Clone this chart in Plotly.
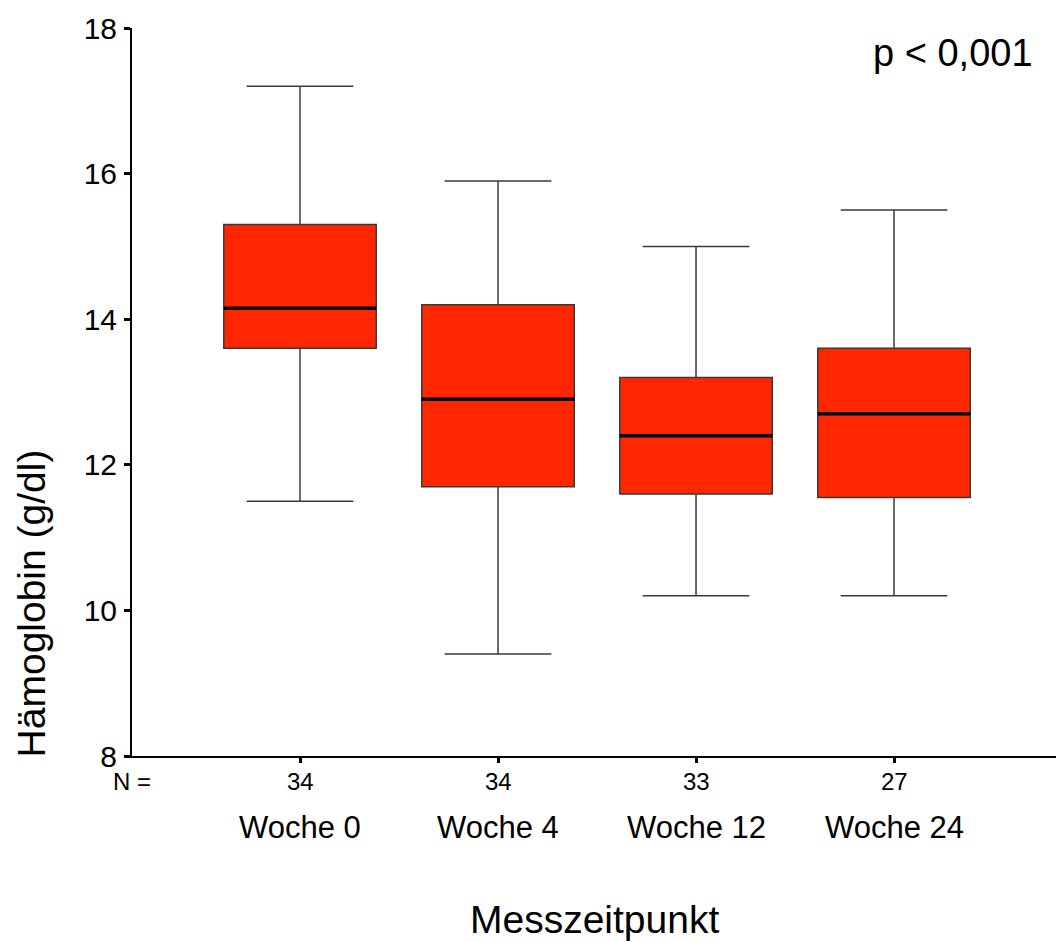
import plotly.graph_objects as go

categories = ["Woche 0", "Woche 4", "Woche 12", "Woche 24"]
n_counts = [34, 34, 33, 27]
upper_whisker = [17.2, 15.9, 15.0, 15.5]
q3_values = [15.3, 14.2, 13.2, 13.6]
medians = [14.15, 12.9, 12.4, 12.7]
q1_values = [13.6, 11.7, 11.6, 11.55]
lower_whisker = [11.5, 9.4, 10.2, 10.2]
y_ticks = [8, 10, 12, 14, 16, 18]

FONT = "Liberation Sans, Arial, sans-serif"
BOX_W = 0.77
FILL = "rgb(255,38,0)"

fig = go.Figure()
positions = list(range(1, len(categories) + 1))
for i, pos in enumerate(positions):
    fig.add_trace(go.Box(
        x=[pos], q1=[q1_values[i]], median=[medians[i]], q3=[q3_values[i]],
        lowerfence=[lower_whisker[i]], upperfence=[upper_whisker[i]],
        width=BOX_W, whiskerwidth=0.7, fillcolor=FILL,
        line=dict(color="#3a3a3a", width=1.5), boxpoints=False,
        showlegend=False, hoverinfo="skip",
    ))
    fig.add_trace(go.Scatter(
        x=[pos - BOX_W / 2, pos + BOX_W / 2], y=[medians[i], medians[i]],
        mode="lines", line=dict(color="black", width=3.5),
        showlegend=False, hoverinfo="skip",
    ))

ann = []
ann.append(dict(text="N =", xref="paper", yref="paper", x=0, y=0, yshift=-25,
                xanchor="center", yanchor="middle", showarrow=False,
                font=dict(family=FONT, size=24, color="black")))
for i, pos in enumerate(positions):
    ann.append(dict(text=str(n_counts[i]), xref="x", yref="paper", x=pos, y=0, yshift=-25,
                    xanchor="center", yanchor="middle", showarrow=False,
                    font=dict(family=FONT, size=24, color="black")))
    ann.append(dict(text=categories[i], xref="x", yref="paper", x=pos, y=0, yshift=-71,
                    xanchor="center", yanchor="middle", showarrow=False,
                    font=dict(family=FONT, size=31, color="black")))
ann.append(dict(text="Messzeitpunkt", xref="paper", yref="paper", x=0.5, y=0, yshift=-163,
                xanchor="center", yanchor="middle", showarrow=False,
                font=dict(family=FONT, size=39, color="black")))
ann.append(dict(text="Hämoglobin (g/dl)", xref="paper", yref="paper", x=-0.109, y=0.21,
                xanchor="center", yanchor="middle", textangle=-90, showarrow=False,
                font=dict(family=FONT, size=39, color="black")))
ann.append(dict(text="p < 0,001", xref="paper", yref="paper", x=0.8885, y=0.966,
                xanchor="center", yanchor="middle", showarrow=False,
                font=dict(family=FONT, size=38, color="black")))

fig.update_layout(
    width=1056, height=942,
    margin=dict(l=132, r=0, t=28, b=186),
    paper_bgcolor="white", plot_bgcolor="white",
    annotations=ann,
    xaxis=dict(range=[0.1515, 4.818], tickvals=positions, showticklabels=False,
               ticks="outside", ticklen=5, tickwidth=3, tickcolor="black",
               showline=True, linecolor="black", linewidth=2,
               showgrid=False, zeroline=False, fixedrange=True),
    yaxis=dict(range=[8, 18], tickvals=y_ticks, ticks="outside", ticklen=6, tickwidth=3,
               tickcolor="black", showline=True, linecolor="black", linewidth=2,
               showgrid=False, zeroline=False, ticklabelstandoff=1,
               tickfont=dict(family=FONT, size=30, color="black")),
    boxmode="overlay",
)

fig.write_html("out.html")
